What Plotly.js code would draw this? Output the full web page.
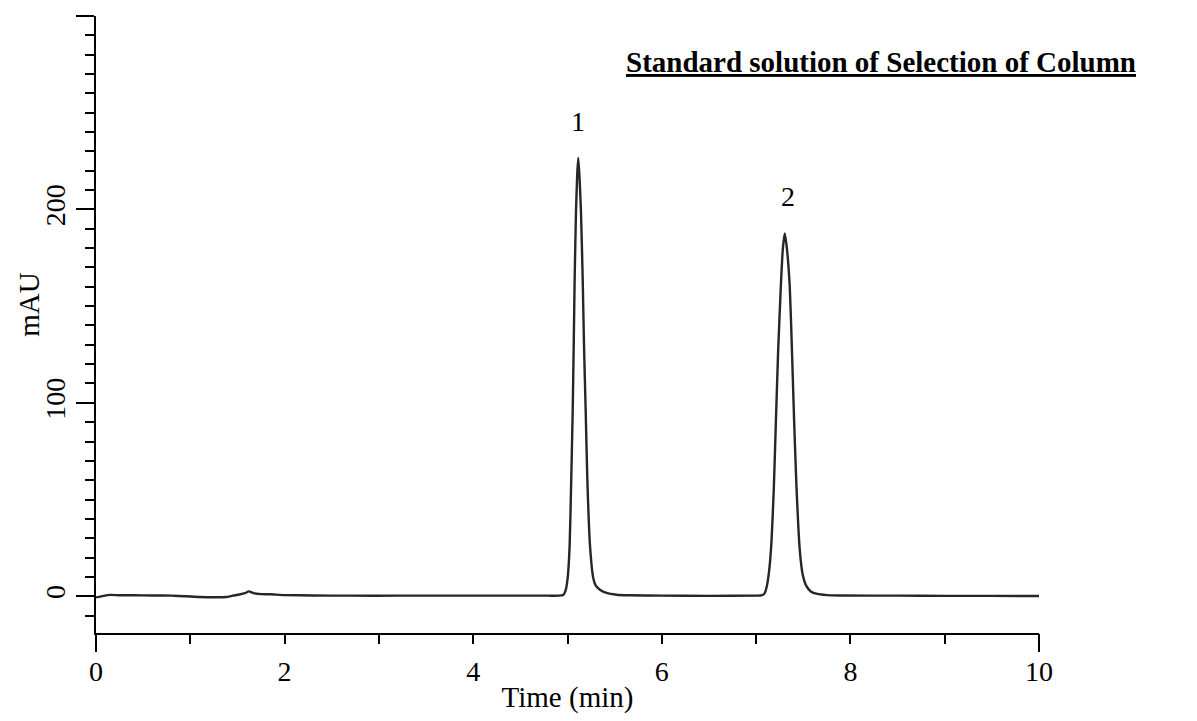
<!DOCTYPE html>
<html>
<head>
<meta charset="utf-8">
<script src="https://cdn.plot.ly/plotly-3.0.1.min.js"></script>
<style>html,body{margin:0;padding:0;background:#fff;}#chart{width:1197px;height:721px;}</style>
</head>
<body>
<div id="chart"></div>
<script>
// Chromatogram readings (time in min, signal in mAU)
var timeMin = [
  0.00, 0.08, 0.15, 0.25, 0.40, 0.60, 0.80, 0.95, 1.10, 1.25, 1.38, 1.45, 1.52, 1.58, 1.62, 1.67, 1.75, 1.85, 2.00, 2.30, 2.70, 3.20, 3.80, 4.40, 4.80,
  4.90, 4.955, 4.98, 5.002, 5.023, 5.040, 5.055, 5.066, 5.076, 5.090, 5.103, 5.114, 5.127, 5.143, 5.161, 5.175, 5.193, 5.210, 5.238, 5.273, 5.300, 5.344, 5.415, 5.520, 5.650,
  6.00, 6.50, 7.00,
  7.056, 7.090, 7.117, 7.140, 7.163, 7.188, 7.209, 7.233, 7.262, 7.284, 7.304, 7.326, 7.357, 7.381, 7.403, 7.428, 7.463, 7.495, 7.534, 7.580, 7.650, 7.750, 7.900,
  8.50, 9.00, 9.50, 10.00
];
var signalMAU = [
  -0.6, 0.2, 0.7, 0.5, 0.5, 0.4, 0.3, 0.0, -0.4, -0.5, -0.4, 0.3, 0.9, 1.6, 2.5, 1.6, 1.1, 1.0, 0.6, 0.4, 0.3, 0.3, 0.3, 0.3, 0.3,
  0.3, 0.6, 3.0, 9.5, 26.7, 61.1, 95.5, 130.0, 164.4, 198.8, 218.0, 226.6, 217.0, 198.8, 164.4, 130.0, 95.5, 61.1, 26.7, 9.5, 5.5, 3.4, 1.7, 0.8, 0.5,
  0.3, 0.2, 0.3,
  0.4, 1.5, 6.0, 14.0, 28.0, 56.0, 89.0, 125.7, 160.0, 180.0, 187.6, 180.0, 160.0, 125.7, 91.2, 56.8, 24.0, 11.0, 5.2, 2.5, 1.2, 0.6, 0.4,
  0.3, 0.2, 0.2, 0.1
];
var peakLabels = ['1', '2'];
var peakTimes = [5.114, 7.304];
var peakHeights = [226.6, 187.6];
var chartTitle = 'Standard solution of Selection of Column';
var xTitle = 'Time (min)';
var yTitle = 'mAU';

var FONT = 'Liberation Serif, Times New Roman, serif';

var traces = [
  {
    x: timeMin, y: signalMAU, type: 'scatter', mode: 'lines',
    line: {color: '#262626', width: 2.4, shape: 'spline', smoothing: 0.5},
    hoverinfo: 'skip', showlegend: false
  },
  {
    x: timeMin, y: signalMAU, xaxis: 'x2', type: 'scatter', mode: 'lines',
    line: {color: 'rgba(0,0,0,0)', width: 0},
    hoverinfo: 'skip', showlegend: false
  }
];

var annotations = peakLabels.map(function (lab, i) {
  return {
    x: peakTimes[i], y: peakHeights[i], xref: 'x', yref: 'y',
    text: lab, showarrow: false, yanchor: 'bottom', yshift: 19, xshift: i === 1 ? 3 : 0,
    font: {family: FONT, size: 28, color: '#000'}
  };
});
annotations.push({
  xref: 'paper', yref: 'paper', x: 1.105, y: 0.925, xanchor: 'right', yanchor: 'middle',
  text: '<b><u>' + chartTitle + '</u></b>', showarrow: false,
  font: {family: FONT, size: 29, color: '#000'}
});
annotations.push({
  xref: 'paper', yref: 'paper', x: -0.071, y: 0.532, xanchor: 'center', yanchor: 'middle',
  text: yTitle, textangle: -90, showarrow: false,
  font: {family: FONT, size: 29, color: '#000'}
});

var layout = {
  width: 1197, height: 721,
  margin: {l: 96, r: 158, t: 16, b: 88, pad: 0},
  paper_bgcolor: '#fff', plot_bgcolor: '#fff',
  showlegend: false,
  font: {family: FONT, color: '#000'},
  xaxis: {
    range: [0, 10], showgrid: false, zeroline: false,
    showline: true, linecolor: '#000', linewidth: 2,
    ticks: 'outside', tick0: 0, dtick: 2, ticklen: 9, tickwidth: 2, tickcolor: '#000',
    minor: {ticks: 'outside', dtick: 1, tick0: 0, ticklen: 9, tickwidth: 2, tickcolor: '#000', showgrid: false},
    ticklabelstandoff: 3,
    tickfont: {family: FONT, size: 28, color: '#000'},
    title: {text: xTitle, font: {family: FONT, size: 29, color: '#000'}, standoff: 1}
  },
  xaxis2: {
    overlaying: 'x', anchor: 'y', side: 'bottom', matches: 'x', range: [0, 10],
    showgrid: false, zeroline: false, showline: false,
    tickmode: 'array', tickvals: [0, 10], ticks: 'outside', ticklen: 18, tickwidth: 2, tickcolor: '#000',
    showticklabels: false
  },
  yaxis: {
    range: [-19, 300], showgrid: false, zeroline: false,
    showline: true, linecolor: '#000', linewidth: 2,
    ticks: 'outside', tick0: 0, dtick: 100, ticklen: 18, tickwidth: 2, tickcolor: '#000',
    minor: {ticks: 'outside', dtick: 10, tick0: 0, ticklen: 9, tickwidth: 2, tickcolor: '#000', showgrid: false},
    labelalias: {'300': ' '},
    tickangle: -90,
    tickfont: {family: FONT, size: 28, color: '#000'}
  },
  annotations: annotations
};

Plotly.newPlot('chart', traces, layout, {staticPlot: true, displayModeBar: false});
</script>
</body>
</html>
